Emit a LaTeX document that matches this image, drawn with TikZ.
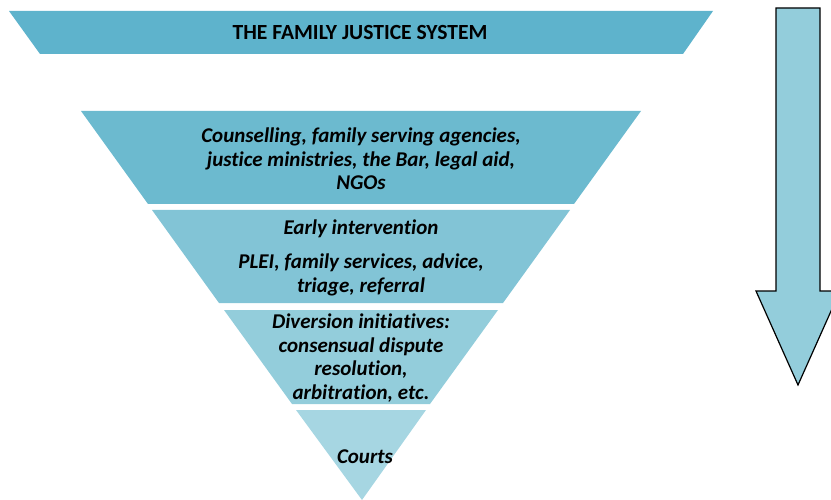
\documentclass[tikz,border=0pt]{standalone}
\usepackage{fontspec}
\setmainfont[Ligatures=NoCommon]{Carlito}
\definecolor{bannerblue}{HTML}{5EB3CC}
\definecolor{levelone}{HTML}{6CBACF}
\definecolor{leveltwo}{HTML}{82C4D6}
\definecolor{levelthree}{HTML}{93CDDB}
\definecolor{levelfour}{HTML}{A6D6E2}

\begin{document}
\begin{tikzpicture}[x=1pt,y=-1pt,
    levtext/.style={align=center,font=\fontsize{21}{23.5}\selectfont\bfseries\itshape}]
        \useasboundingbox (0,0) rectangle (831,500) ;
        \fill[bannerblue] (9,11) -- (713,11) -- (683,54) -- (40,54) -- cycle ;
        \node[font=\fontsize{21.6}{24}\selectfont\bfseries] (title) at (360,32) {THE FAMILY JUSTICE SYSTEM} ;
        \fill[levelone] (81,111) -- (641,111) -- (574,204) -- (148,204) -- cycle ;
        \fill[leveltwo] (152,210) -- (570,210) -- (503,303) -- (219,303) -- cycle ;
        \fill[levelthree] (224,310) -- (498,310) -- (430,404) -- (292,404) -- cycle ;
        \fill[levelfour] (296,410) -- (426,410) -- (362,500) -- cycle ;
        \node[levtext] (agencies) at (361,159) {Counselling, family serving agencies,\\justice ministries, the Bar, legal aid,\\NGOs} ;
        \node[levtext] (early) at (361,229) {Early intervention} ;
        \node[levtext] (services) at (361,275) {PLEI, family services, advice,\\triage, referral} ;
        \node[levtext] (diversion) at (361,358) {Diversion initiatives:\\consensual dispute\\resolution,\\arbitration, etc.} ;
        \node[levtext] (courts) at (365,457) {Courts} ;
        \draw[black, line width=1.2pt, fill=levelthree, line join=miter] (776,8) -- (820,8) -- (820,291) -- (840,291) -- (798,385) -- (756,291) -- (776,291) -- cycle ;
    \end{tikzpicture}
\end{document}
